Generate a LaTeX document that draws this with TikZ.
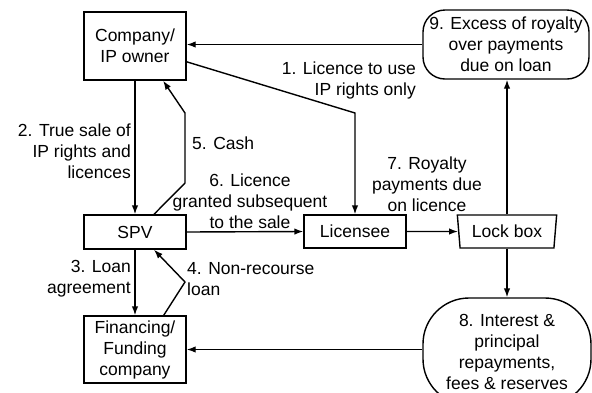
\documentclass[tikz,border=0pt]{standalone}
\usepackage{fontspec}
\setmainfont{Liberation Sans}
\usetikzlibrary{shapes.geometric,arrows.meta}
\begin{document}
\begin{tikzpicture}[x=1pt,y=-1pt,
    font=\fontsize{17.5}{21}\selectfont,
    every node/.style={inner sep=0pt},
    box/.style={draw,line width=1.4pt,minimum width=102pt,align=center},
    pill/.style={draw,line width=1.4pt,rounded corners=#1,align=center},
    lbl/.style={align=#1},
    arr/.style={-{Latex[length=9pt,width=6.5pt]},line width=1.4pt}]
      \useasboundingbox (0,0) rectangle (592,392);
      \clip (0,0) rectangle (592,392);
      \fill[white] (0,0) rectangle (592,392);
      % boxes
      \node[box,minimum height=68pt] (company) at (135,46) {Company/\\IP owner};
      \node[box,minimum height=34pt] (spv) at (135,232) {SPV};
      \node[box,minimum height=67pt] (fin) at (135,349.5) {Financing/\\Funding\\company};
      \node[box,minimum height=33pt] (lic) at (355,231.5) {Licensee};
      \node[draw,line width=1.4pt,trapezium,trapezium angle=81,shape border rotate=180,
            trapezium stretches=true,minimum width=100pt,minimum height=33pt] (lock) at (507,231.5) {Lock box};
      \node[pill=22pt,minimum width=166pt,minimum height=69pt] (ex9) at (506,44.5) {9. Excess of royalty\\over payments\\due on loan};
      \node[pill=46pt,minimum width=168pt,minimum height=107pt] (int8) at (507,351.5) {8. Interest \&\\principal\\repayments,\\fees \& reserves};
      % labels
      \node[lbl=right,anchor=east] (t1) at (416,80) {1. Licence to use\\IP rights only};
      \node[lbl=right,anchor=east] (t2) at (131,151) {2. True sale of\\IP rights and\\licences};
      \node[lbl=right,anchor=east] (t3) at (131,279) {3. Loan\\agreement};
      \node[lbl=left,anchor=west] (t4) at (187,279) {4. Non-recourse\\loan};
      \node[anchor=west] (t5) at (192,143) {5. Cash};
      \node[lbl=center] (t6) at (250,201) {6. Licence\\granted subsequent\\to the sale};
      \node[lbl=center] (t7) at (427,184) {7. Royalty\\payments due\\on licence};
      % bends
      \coordinate (k1) at (355,113);
      \coordinate (c5a) at (185,183);
      \coordinate (c5b) at (185,113);
      \coordinate (c4) at (185,282);
      % arrows
      \draw[arr] (ex9.west) -- (ex9.west -| company.east);
      \draw[arr] (company.-17) -- (k1) -- (lic.north);
      \draw[arr] (company.south) -- (spv.north);
      \draw[arr] (spv.43) -- (c5a) -- (c5b) -- (company.-51);
      \draw[arr] (spv.south) -- (fin.north);
      \draw[arr] (fin.50) -- (c4) -- (spv.-43);
      \draw[arr] (spv.east) -- (lic.west);
      \draw[arr] (lic.east) -- (lock.west);
      \draw[arr] (lock.north) -- (lock.north |- ex9.south);
      \draw[arr] (lock.south) -- (lock.south |- int8.north);
      \draw[arr] (fin.east -| int8.west) -- (fin.east);
\end{tikzpicture}
\end{document}
